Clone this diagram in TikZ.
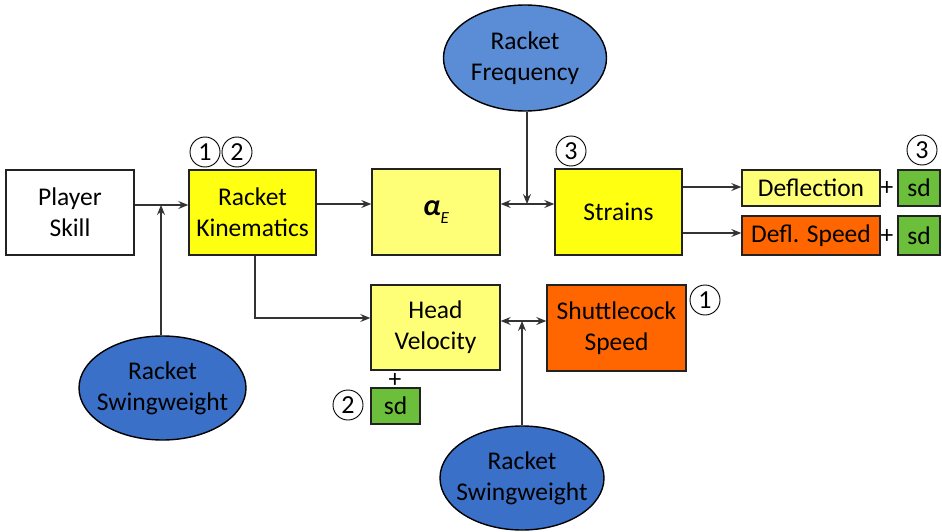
\documentclass[tikz,border=0pt]{standalone}
\usepackage{fontspec}
\setmainfont{Carlito}
\usetikzlibrary{arrows.meta,shapes.geometric,calc}
\definecolor{ybright}{HTML}{FFFF11}
\definecolor{ylight}{HTML}{FFFF77}
\definecolor{orng}{HTML}{FF6600}
\definecolor{grn}{HTML}{6BBF3A}
\definecolor{blueA}{HTML}{5B8DD6}
\definecolor{blueB}{HTML}{3A70C8}
\definecolor{edge}{HTML}{222222}
\definecolor{wire}{HTML}{333333}
\begin{document}
\begin{tikzpicture}[x=1pt,y=-1pt,
  every node/.style={font=\fontsize{25.5}{31}\selectfont, align=center, text=black},
  box/.style={draw=edge, line width=1.4pt, minimum width=#1, inner sep=0pt},
  ell/.style={draw=black, line width=1.4pt, ellipse, inner sep=0pt},
  num/.style={draw=black, line width=0.9pt, circle, minimum size=30pt, inner sep=0pt, font=\fontsize{26}{26}\selectfont},
  conn/.style={draw=wire, line width=1.1pt, -{Stealth[length=10pt,width=8pt,inset=3.5pt]}},
  both/.style={draw=wire, line width=1.1pt, {Stealth[length=10pt,width=8pt,inset=3.5pt]}-{Stealth[length=10pt,width=8pt,inset=3.5pt]}}]
\useasboundingbox (0,0) rectangle (942,532);
% main boxes
\node[box=128pt, minimum height=85pt, fill=white] (PS) at (70,212.5) {Player\\Skill};
\node[box=127pt, minimum height=85pt, fill=ybright] (RK) at (252.5,212.5) {Racket\\Kinematics};
\node[box=128pt, minimum height=86pt, fill=ylight] (AE) at (436,212) {{\fontsize{30}{30}\selectfont\bfseries\itshape α}\raisebox{-0.3em}{\fontsize{17}{17}\selectfont\itshape E}};
\node[box=127pt, minimum height=86pt, fill=ybright] (ST) at (618.5,212) {Strains};
\node[box=138pt, minimum height=36pt, fill=ylight] (DF) at (811,188) {Deflection};
\node[box=42pt, minimum height=36pt, fill=grn] (SD1) at (919,188) {sd};
\node[box=138pt, minimum height=39pt, fill=orng] (DS) at (811,235.5) {Defl. Speed};
\node[box=42pt, minimum height=39pt, fill=grn] (SD2) at (919,235.5) {sd};
\node[box=129pt, minimum height=85pt, fill=ylight] (HV) at (435.5,327.5) {Head\\Velocity};
\node[box=139pt, minimum height=86pt, fill=orng] (SS) at (616.5,328) {Shuttlecock\\Speed};
\node[box=49pt, minimum height=36pt, fill=grn] (SD3) at (395.5,406) {sd};
% plus signs
\node (P1) at (887,188) {+};
\node (P2) at (887,236) {+};
\node (P3) at (395,380) {+};
% ellipses
\node[ell, fill=blueA, minimum width=163pt, minimum height=106pt] (RF) at (525,58) {};
\node (RFt) at (RF) {Racket\\Frequency};
\node[ell, fill=blueB, minimum width=167pt, minimum height=104pt] (SW1) at (162.5,388) {};
\node (SW1t) at (SW1) {Racket\\Swingweight};
\node[ell, fill=blueB, minimum width=164pt, minimum height=104pt] (SW2) at (522,478) {};
\node (SW2t) at (SW2) {Racket\\Swingweight};
% circled numbers
\node[num] (C1) at (205,152) {1};
\node[num] (C2) at (237,152) {2};
\node[num] (C3) at (571,151) {3};
\node[num] (C4) at (922,150) {3};
\node[num] (C5) at (705,300) {1};
\node[num] (C6) at (348,405) {2};
% junctions
\coordinate (J1) at (161,205);
\coordinate (J2) at (527,204);
\coordinate (J3) at (522,321);
\coordinate (K1) at (255,318);
% connectors
\draw[conn] (PS.east |- J1) -- (RK.west |- J1);
\draw[conn] (SW1.north -| J1) -- (J1);
\draw[conn] (RK.east |- J2) -- (AE.west |- J2);
\draw[both] (AE.east |- J2) -- (ST.west |- J2);
\draw[conn] (RF.south -| J2) -- (J2);
\draw[conn] ($(ST.east)+(0,-25)$) -- ($(DF.west)+(0,-1)$);
\draw[conn] ($(ST.east)+(0,21)$) -- ($(DS.west)+(0,-2.5)$);
\draw[conn] (RK.south -| K1) -- (K1) -- (HV.west |- K1);
\draw[both] (HV.east |- J3) -- (SS.west |- J3);
\draw[conn] (SW2.north -| J3) -- (J3);
\end{tikzpicture}
\end{document}
